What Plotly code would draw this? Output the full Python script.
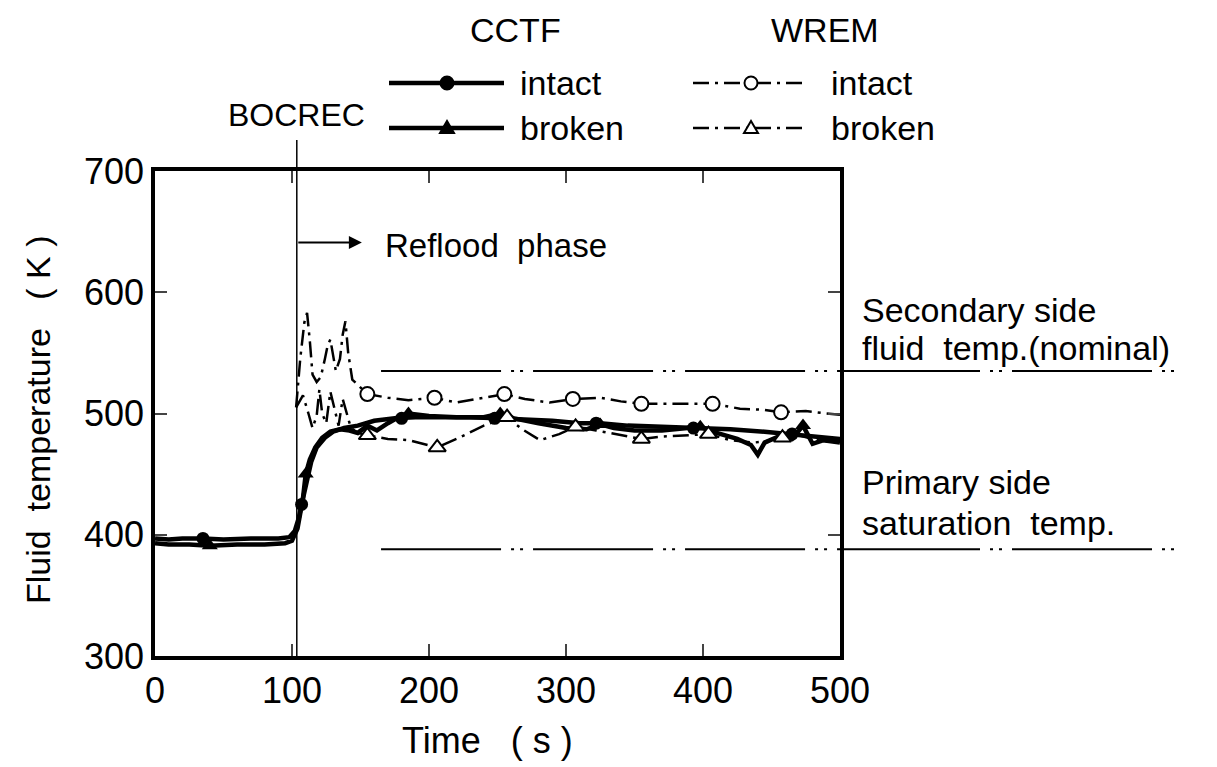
import plotly.graph_objects as go

# ---------------- data ----------------
cctf_intact_t = [0, 10, 20, 35, 50, 70, 90, 98, 102, 105, 107, 110, 114, 118, 124, 130, 138, 148,
                 160, 175, 190, 210, 230, 250, 270, 290, 310, 325, 345, 370, 393, 420, 445, 465, 485, 500]
cctf_intact_T = [397, 396, 397, 397, 396, 397, 397, 398, 403, 414, 425, 442, 460, 472, 480, 485, 488, 490,
                 494, 496, 497, 497, 497, 496, 495, 494, 492, 492, 490, 489, 488, 487, 485, 483, 481, 479]
cctf_intact_mk_t = [35, 107, 180, 248, 322, 393, 465]
cctf_intact_mk_T = [397, 425, 496, 496, 492, 488, 483]

cctf_broken_t = [0, 10, 25, 40, 60, 80, 95, 100, 104, 108, 110, 113, 117, 122, 128, 135, 142, 148, 155,
                 162, 170, 178, 185, 200, 220, 240, 252, 262, 280, 300, 315, 325, 335, 350, 370, 385,
                 398, 410, 425, 435, 440, 445, 455, 465, 473, 480, 488, 500]
cctf_broken_T = [393, 392, 392, 391, 392, 392, 393, 395, 405, 430, 450, 462, 472, 480, 485, 487, 486, 484, 490,
                 486, 492, 497, 500, 498, 497, 497, 500, 496, 492, 488, 487, 491, 488, 486, 486, 488,
                 489, 484, 479, 474, 466, 476, 481, 479, 490, 475, 478, 476]
cctf_broken_mk_t = [40, 110, 185, 252, 325, 398, 473]
cctf_broken_mk_T = [391, 450, 500, 500, 491, 489, 490]

wrem_intact_t = [103, 106, 109, 111, 113, 115, 118, 121, 124, 126, 128, 130, 132, 135, 137, 139, 141, 144,
                 150, 155, 170, 185, 204, 220, 235, 255, 270, 288, 305, 325, 340, 355, 380, 407, 427,
                 445, 457, 475, 490, 500]
wrem_intact_T = [505, 545, 575, 583, 560, 532, 526, 530, 545, 556, 561, 548, 535, 545, 565, 576, 550, 528,
                 521, 516, 513, 511, 513, 509, 512, 516, 512, 509, 512, 513, 510, 508, 508, 508, 504,
                 503, 501, 502, 500, 499]
wrem_intact_mk_t = [155, 204, 255, 305, 355, 407, 457]
wrem_intact_mk_T = [516, 513, 516, 512, 508, 508, 501]

wrem_broken_t = [103, 108, 112, 115, 118, 120, 122, 125, 128, 131, 134, 137, 140, 143, 148, 155, 170, 185,
                 206, 222, 240, 257, 268, 281, 295, 307, 322, 340, 355, 370, 385, 404, 420, 437, 445,
                 458, 470, 480, 490, 500]
wrem_broken_T = [505, 515, 500, 488, 498, 520, 500, 492, 518, 505, 490, 512, 500, 488, 484, 482, 479, 478,
                 472, 480, 490, 497, 487, 478, 483, 489, 486, 482, 479, 481, 482, 483, 478, 476, 477,
                 480, 482, 479, 477, 478]
wrem_broken_mk_t = [155, 206, 257, 307, 355, 404, 458]
wrem_broken_mk_T = [482, 472, 497, 489, 479, 483, 480]

bocrec_t = 103.5
secondary_T = 535       # secondary side fluid temp. (nominal)
primary_T = 388         # primary side saturation temp.
ref_line_start_t = 165
reflood_arrow_T = 641
reflood_arrow_end_t = 151

x_ticks = [0, 100, 200, 300, 400, 500]
y_ticks = [300, 400, 500, 600, 700]

FONT = "Liberation Sans"
fig = go.Figure()

# CCTF (solid)
fig.add_trace(go.Scatter(x=cctf_intact_t, y=cctf_intact_T, mode="lines", name="CCTF intact",
                         line=dict(color="black", width=4.5)))
fig.add_trace(go.Scatter(x=cctf_broken_t, y=cctf_broken_T, mode="lines", name="CCTF broken",
                         line=dict(color="black", width=4.5)))
# WREM (dash-dot)
wdash = "16px,6px,3px,6px"
fig.add_trace(go.Scatter(x=wrem_intact_t, y=wrem_intact_T, mode="lines", name="WREM intact",
                         line=dict(color="black", width=2.5, dash=wdash)))
fig.add_trace(go.Scatter(x=wrem_broken_t, y=wrem_broken_T, mode="lines", name="WREM broken",
                         line=dict(color="black", width=2.5, dash=wdash)))
# markers
fig.add_trace(go.Scatter(x=cctf_intact_mk_t, y=cctf_intact_mk_T, mode="markers",
                         marker=dict(symbol="circle", size=13, color="black")))
fig.add_trace(go.Scatter(x=cctf_broken_mk_t, y=cctf_broken_mk_T, mode="markers",
                         marker=dict(symbol="triangle-up", size=14, color="black")))
fig.add_trace(go.Scatter(x=wrem_intact_mk_t, y=wrem_intact_mk_T, mode="markers",
                         marker=dict(symbol="circle", size=14, color="white",
                                     line=dict(color="black", width=2))))
fig.add_trace(go.Scatter(x=wrem_broken_mk_t, y=wrem_broken_mk_T, mode="markers",
                         marker=dict(symbol="triangle-up", size=15, color="white",
                                     line=dict(color="black", width=2))))

# reference lines inside plot
rdash = "120px,10px,3px,6px,3px,10px"
for T in (secondary_T, primary_T):
    fig.add_trace(go.Scatter(x=[ref_line_start_t, x_ticks[-1]], y=[T, T], mode="lines",
                             line=dict(color="black", width=2, dash=rdash)))

shapes = []
# continuation of reference lines outside plot
for T in (secondary_T, primary_T):
    shapes.append(dict(type="line", xref="paper", yref="y", x0=1.0, x1=1.499, y0=T, y1=T,
                       line=dict(color="black", width=2, dash="140px,10px,3px,6px,3px,10px")))
# BOCREC line
shapes.append(dict(type="line", xref="x", yref="paper", x0=bocrec_t, x1=bocrec_t, y0=0, y1=1.064,
                   line=dict(color="black", width=1.5)))

# legend samples
def px_x(p):
    return (p - 155) / 685.0

def px_y(p):
    return (656 - p) / 485.0

rows = {"intact": 83, "broken": 128}
for (x0, x1, xm, solid) in [(389, 504, 447, True), (693, 806, 751, False)]:
    for key, yy in rows.items():
        shapes.append(dict(type="line", xref="paper", yref="paper", x0=px_x(x0), x1=px_x(x1),
                           y0=px_y(yy), y1=px_y(yy),
                           line=dict(color="black", width=4.5 if solid else 2.5,
                                     dash="solid" if solid else wdash)))
        fill = "black" if solid else "white"
        if key == "intact":
            shapes.append(dict(type="circle", xref="paper", yref="paper",
                               xsizemode="pixel", ysizemode="pixel",
                               xanchor=px_x(xm), yanchor=px_y(yy),
                               x0=-6.5, x1=6.5, y0=-6.5, y1=6.5,
                               fillcolor=fill, line=dict(color="black", width=2)))
        else:
            shapes.append(dict(type="path", xref="paper", yref="paper",
                               xsizemode="pixel", ysizemode="pixel",
                               xanchor=px_x(xm), yanchor=px_y(yy),
                               path="M -7 -5 L 7 -5 L 0 7 Z",
                               fillcolor=fill, line=dict(color="black", width=2)))

ann = []
def txt(text, x, y, size=34, xanchor="left", **kw):
    ann.append(dict(text=text, xref="paper", yref="paper", x=x, y=y, showarrow=False,
                    xanchor=xanchor, yanchor="middle", font=dict(family=FONT, size=size, color="black"), **kw))

txt("CCTF", px_x(515), px_y(30), xanchor="center")
txt("WREM", px_x(825), px_y(30), xanchor="center")
txt("intact", px_x(518), px_y(83))
txt("broken", px_x(518), px_y(128))
txt("intact", px_x(829), px_y(83))
txt("broken", px_x(829), px_y(128))
txt("BOCREC", px_x(296), px_y(115), xanchor="center", size=32)
txt("Reflood  phase", px_x(383), px_y(245), size=33)
txt("Secondary side", px_x(860), px_y(310))
txt("fluid  temp.(nominal)", px_x(860), px_y(348))
txt("Primary side", px_x(860), px_y(482))
txt("saturation  temp.", px_x(860), px_y(523))
txt("Fluid  temperature   ( K )", px_x(38), px_y(420), xanchor="center", textangle=-90, size=34)
txt("Time   ( s )", px_x(487), px_y(740), xanchor="center", size=36)

# reflood arrow
ann.append(dict(x=reflood_arrow_end_t, y=reflood_arrow_T, ax=bocrec_t, ay=reflood_arrow_T,
                xref="x", yref="y", axref="x", ayref="y", text="", showarrow=True,
                arrowhead=2, arrowsize=1.3, arrowwidth=2, arrowcolor="black"))

fig.update_layout(
    width=1217, height=767, autosize=False,
    margin=dict(l=155, r=377, t=171, b=111, pad=0),
    paper_bgcolor="white", plot_bgcolor="white",
    showlegend=False,
    shapes=shapes, annotations=ann,
    font=dict(family=FONT, size=36, color="black"),
)
fig.update_xaxes(range=[0, 500], tickvals=x_ticks, ticks="inside", ticklen=12, tickwidth=2,
                 showline=True, linewidth=3.5, linecolor="black", mirror="ticks",
                 showgrid=False, zeroline=False, tickfont=dict(family=FONT, size=36))
fig.update_yaxes(range=[300, 700], tickvals=y_ticks, ticks="inside", ticklen=12, tickwidth=2,
                 showline=True, linewidth=3.5, linecolor="black", mirror="ticks",
                 showgrid=False, zeroline=False, tickfont=dict(family=FONT, size=36))

fig.write_html("out.html")
